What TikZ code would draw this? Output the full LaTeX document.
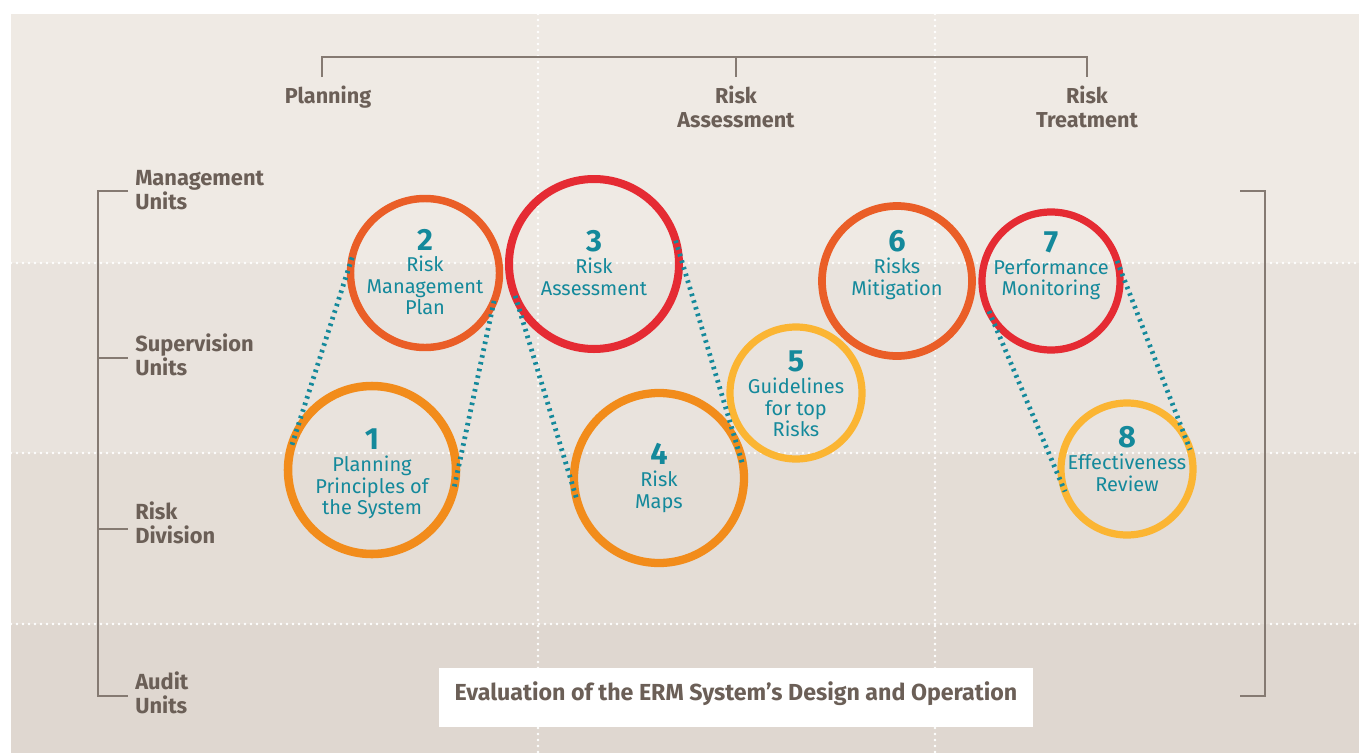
\documentclass[tikz,border=0pt]{standalone}
\usepackage{fontspec}
\setmainfont{Fira Sans}
\usetikzlibrary{positioning}

\definecolor{bandA}{HTML}{EFEAE4}
\definecolor{bandB}{HTML}{E9E3DD}
\definecolor{bandC}{HTML}{E4DDD6}
\definecolor{bandD}{HTML}{DFD7D0}
\definecolor{inkgray}{HTML}{6B5F57}
\definecolor{rulegray}{HTML}{857A72}
\definecolor{ermteal}{HTML}{14899B}
\definecolor{ringorange}{HTML}{F28C1B}
\definecolor{ringdark}{HTML}{EA5E27}
\definecolor{ringred}{HTML}{E52B33}
\definecolor{ringyellow}{HTML}{FBB533}

\tikzset{
  ring/.style={circle, draw=#1, inner sep=0pt, outer sep=0pt},
  ringtext/.style={align=center, text=ermteal, inner sep=0pt,
    font=\fontsize{15}{16.2}\selectfont},
  tangent/.style={draw=ermteal, line width=3.6pt, dash pattern=on 1.9pt off 3.3pt},
  gridline/.style={draw=white, line width=2.2pt, line cap=round,
    dash pattern=on 0pt off 4.5pt},
  head/.style={font=\bfseries\fontsize{16.2}{17.6}\selectfont, text=inkgray,
    align=center, anchor=north, inner sep=0pt},
  unitlabel/.style={font=\bfseries\fontsize{16.4}{17.6}\selectfont, text=inkgray,
    align=left, anchor=west, inner sep=0pt},
  bracket/.style={draw=rulegray, line width=1.1pt},
}
\newcommand{\ringno}[1]{{\bfseries\fontsize{23}{23}\selectfont #1}}

\begin{document}
\begin{tikzpicture}[x=0.75pt,y=-0.75pt]
  \useasboundingbox (0,0) rectangle (1359,753);
  % Bands
  \fill[bandA] (11,14) rectangle (1359,263);
  \fill[bandB] (11,263) rectangle (1359,453);
  \fill[bandC] (11,453) rectangle (1359,624);
  \fill[bandD] (11,624) rectangle (1359,753);
  % Grid
  \foreach \y in {263,453,624} {
    \draw[gridline] (11,\y) -- (1359,\y);
  }
  \foreach \x in {538,935} {
    \draw[gridline] (\x,14) -- (\x,753);
  }
  % Top bracket
  \draw[bracket] (322,77) -- (322,57) -- (1087,57) -- (1087,77);
  \draw[bracket] (736,57) -- (736,77);
  \node[head] (planning) at (328,86) {Planning};
  \node[head] (assess) at (736,86) {Risk\\Assessment};
  \node[head] (treat) at (1087,86) {Risk\\Treatment};
  % Left bracket
  \draw[bracket] (128,191) -- (98,191) -- (98,696) -- (128,696);
  \draw[bracket] (98,358) -- (128,358);
  \draw[bracket] (98,529) -- (128,529);
  \node[unitlabel] (mgmt) at (135,190) {Management\\Units};
  \node[unitlabel] (superv) at (135,355) {Supervision\\Units};
  \node[unitlabel] (riskdiv) at (135,523) {Risk\\Division};
  \node[unitlabel] (audit) at (135,693) {Audit\\Units};
  % Right bracket
  \draw[bracket] (1240,191) -- (1265,191) -- (1265,696) -- (1240,696);
  % Rings
  \foreach \n/\x/\y/\d/\c/\w in {1/372/470/126/ringorange/6.4,
      2/425/273/111.75/ringdark/5.6, 3/594/264/127.5/ringred/6,
      4/659/478/127.5/ringorange/6.2, 5/796/393/99/ringyellow/5.4,
      6/897/281/112.5/ringdark/5.8, 7/1051/281/103.5/ringred/5.4,
      8/1127/469/99/ringyellow/5.4} {
    \node[ring=\c, line width=\w pt, minimum size=\d pt] (c\n) at (\x,\y) {};
  }
  % Dotted links
  \draw[tangent] (c2.168) -- (c1.165);
  \draw[tangent] (c2.338) -- (c1.348);
  \draw[tangent] (c3.202) -- (c4.194);
  \draw[tangent] (c3.16) -- (c4.8);
  \draw[tangent] (c7.206) -- (c8.200);
  \draw[tangent] (c7.17) -- (c8.17);
  % Ring texts
  \node[ringtext] (t1) at (372,474) {\ringno{1}\\Planning\\Principles of\\the System};
  \node[ringtext] (t2) at (425,272) {\ringno{2}\\Risk\\Management\\Plan};
  \node[ringtext] (t3) at (594,263) {\ringno{3}\\Risk\\Assessment};
  \node[ringtext] (t4) at (659,478) {\ringno{4}\\Risk\\Maps};
  \node[ringtext] (t5) at (796,394) {\ringno{5}\\Guidelines\\for top\\Risks};
  \node[ringtext] (t6) at (897,265) {\ringno{6}\\Risks\\Mitigation};
  \node[ringtext] (t7) at (1051,266) {\ringno{7}\\Performance\\Monitoring};
  \node[ringtext] (t8) at (1127,459) {\ringno{8}\\Effectiveness\\Review};
  % Evaluation box
  \node[fill=white, minimum width=445.5pt, minimum height=44.25pt, inner sep=0pt]
    (evalbox) at (736,697.5) {};
  \node[font=\bfseries\fontsize{17.4}{19}\selectfont, text=inkgray, inner sep=0pt]
    (evaltext) at (736,694) {Evaluation of the ERM System’s Design and Operation};
\end{tikzpicture}
\end{document}
